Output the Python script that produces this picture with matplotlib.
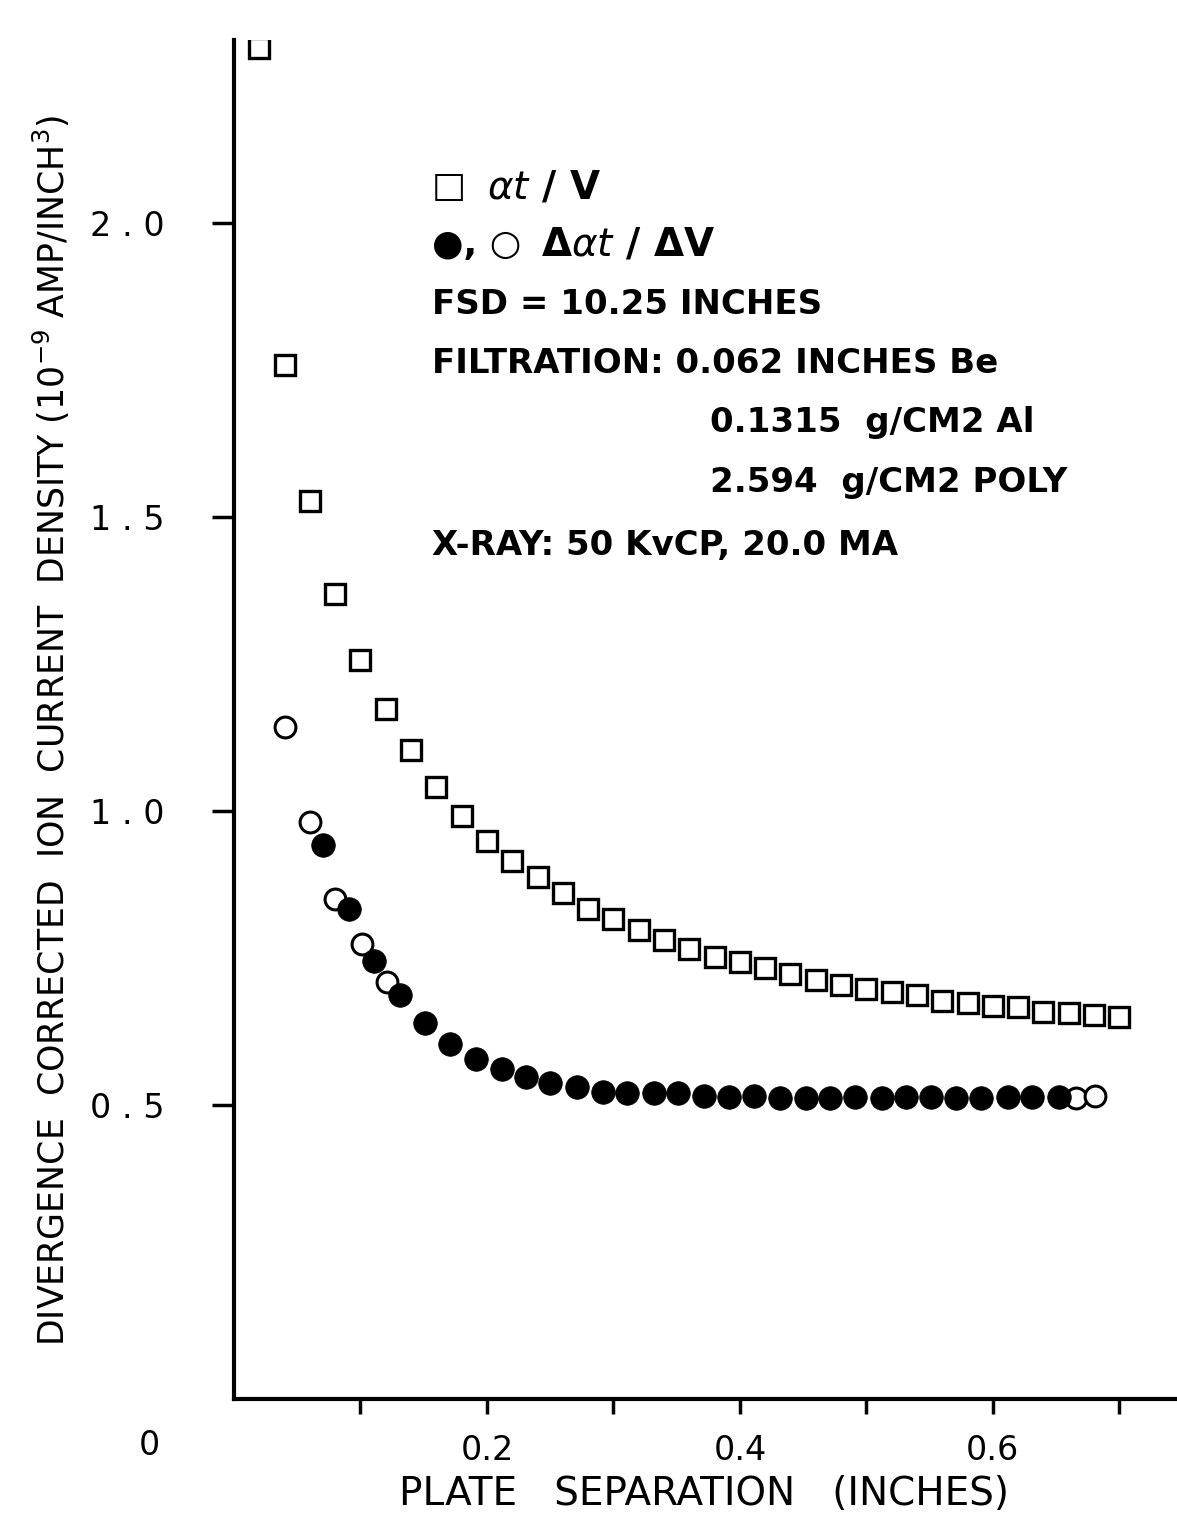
import matplotlib
matplotlib.use("Agg")
import matplotlib.pyplot as plt

# ---------------- data ----------------
sq_x = [0.02, 0.04, 0.06, 0.08, 0.10, 0.12, 0.14, 0.16, 0.18, 0.20,
        0.22, 0.24, 0.26, 0.28, 0.30, 0.32, 0.34, 0.36, 0.38, 0.40,
        0.42, 0.44, 0.46, 0.48, 0.50, 0.52, 0.54, 0.56, 0.58, 0.60,
        0.62, 0.64, 0.66, 0.68, 0.70]
sq_y = [2.298, 1.759, 1.527, 1.369, 1.257, 1.173, 1.103, 1.041, 0.992, 0.949,
        0.915, 0.888, 0.860, 0.834, 0.816, 0.798, 0.781, 0.765, 0.751, 0.743,
        0.732, 0.723, 0.712, 0.704, 0.697, 0.692, 0.687, 0.677, 0.674, 0.668,
        0.666, 0.658, 0.657, 0.653, 0.650]

open_x = [0.040, 0.060, 0.080, 0.101, 0.121, 0.666, 0.681]
open_y = [1.143, 0.981, 0.850, 0.774, 0.709, 0.5125, 0.516]

fill_x = [0.070, 0.091, 0.111, 0.131, 0.151, 0.171, 0.191, 0.212, 0.231, 0.250,
          0.271, 0.292, 0.311, 0.332, 0.351, 0.372, 0.391, 0.411, 0.432, 0.452,
          0.471, 0.491, 0.512, 0.531, 0.551, 0.571, 0.591, 0.612, 0.631, 0.652]
fill_y = [0.942, 0.833, 0.745, 0.687, 0.640, 0.603, 0.578, 0.561, 0.547, 0.537,
          0.530, 0.522, 0.521, 0.520, 0.520, 0.515, 0.514, 0.515, 0.5125, 0.5125,
          0.5125, 0.514, 0.5125, 0.514, 0.514, 0.511, 0.511, 0.514, 0.514, 0.514]

x_ticks = [0.1, 0.2, 0.3, 0.4, 0.5, 0.6, 0.7]
x_ticklabels = ["", "0.2", "", "0.4", "", "0.6", ""]
y_ticks = [0.5, 1.0, 1.5, 2.0]
y_ticklabels = ["0 . 5", "1 . 0", "1 . 5", "2 . 0"]

ylabel = r"DIVERGENCE  CORRECTED  ION  CURRENT  DENSITY (10$^{-9}$ AMP/INCH$^{3}$)"
xlabel = "PLATE   SEPARATION   (INCHES)"

legend_lines = [
    (0.2104, 0.2690, 0.8918, "□", r"$\alpha t$ / V"),
    (0.2104, 0.3262, 0.8492, "●, ○", r"Δ$\alpha t$ / ΔV"),
]
notes = [
    (0.2104, 0.8050, "FSD = 10.25 INCHES"),
    (0.2104, 0.7616, "FILTRATION: 0.062 INCHES Be"),
    (0.5060, 0.7182, "0.1315  g/CM2 Al"),
    (0.5060, 0.6740, "2.594  g/CM2 POLY"),
    (0.2104, 0.6277, "X-RAY: 50 KvCP, 20.0 MA"),
]

# ---------------- figure ----------------
plt.rcParams['font.family'] = ['DejaVu Sans']
plt.rcParams['mathtext.fontset'] = 'dejavusans'
fig = plt.figure(figsize=(11.77, 15.14), dpi=100)
ax = fig.add_axes([0.1988, 0.0760, 0.7995, 0.8976])

ax.plot(sq_x, sq_y, linestyle='none', marker='s', markersize=14,
        markerfacecolor='white', markeredgecolor='black', markeredgewidth=2.4, zorder=3)
ax.plot(open_x, open_y, linestyle='none', marker='o', markersize=15,
        markerfacecolor='white', markeredgecolor='black', markeredgewidth=2.2, zorder=3)
ax.plot(fill_x, fill_y, linestyle='none', marker='o', markersize=17,
        markerfacecolor='black', markeredgecolor='black', markeredgewidth=0.5, zorder=4)

ax.set_xlim(0, 0.744)
ax.set_ylim(0, 2.311)

for s in ['top', 'right']:
    ax.spines[s].set_visible(False)
for s in ['left', 'bottom']:
    ax.spines[s].set_linewidth(3.0)

ax.set_xticks(x_ticks)
ax.set_xticklabels(x_ticklabels, fontsize=24)
ax.set_yticks(y_ticks)
ax.set_yticklabels(y_ticklabels, fontsize=24)
ax.tick_params(axis='x', direction='out', length=11, width=2.5, pad=14)
ax.tick_params(axis='y', direction='out', length=16, width=2.5, pad=34)

ax.set_xlabel(xlabel, fontsize=28, labelpad=6)
ax.set_ylabel(ylabel, fontsize=25)
ax.yaxis.set_label_coords(-0.172, 0.492)

# origin label
ax.text(-0.09, -0.034, "0", transform=ax.transAxes, fontsize=24,
        ha='center', va='center')

for x1, x2, y, sym, lab in legend_lines:
    ax.text(x1, y, sym, transform=ax.transAxes, fontsize=26, fontweight='bold',
            ha='left', va='center')
    ax.text(x2, y, lab, transform=ax.transAxes, fontsize=28, fontweight='bold',
            ha='left', va='center')

for x, y, t in notes:
    ax.text(x, y, t, transform=ax.transAxes, fontsize=24.5, fontweight='bold',
            ha='left', va='center')

fig.savefig("out.png", dpi=100)
